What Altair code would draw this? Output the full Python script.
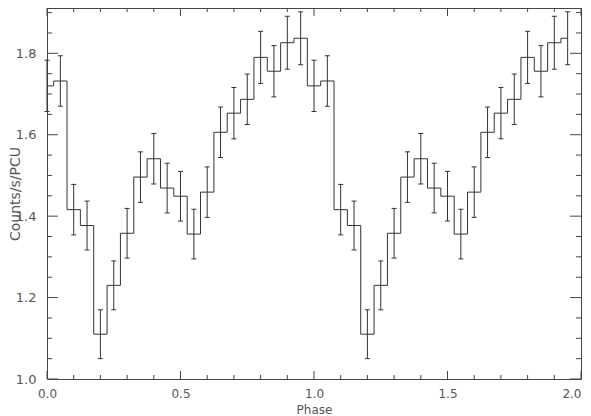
import altair as alt
import pandas as pd

# ---- data (two identical folded cycles) ----
phase = [0.00, 0.05, 0.10, 0.15, 0.20, 0.25, 0.30, 0.35, 0.40, 0.45,
         0.50, 0.55, 0.60, 0.65, 0.70, 0.75, 0.80, 0.85, 0.90, 0.95,
         1.00, 1.05, 1.10, 1.15, 1.20, 1.25, 1.30, 1.35, 1.40, 1.45,
         1.50, 1.55, 1.60, 1.65, 1.70, 1.75, 1.80, 1.85, 1.90, 1.95]
rate = [1.720, 1.732, 1.416, 1.377, 1.110, 1.230, 1.358, 1.496, 1.541, 1.469,
        1.449, 1.356, 1.459, 1.606, 1.653, 1.687, 1.790, 1.756, 1.826, 1.837,
        1.720, 1.732, 1.416, 1.377, 1.110, 1.230, 1.358, 1.496, 1.541, 1.469,
        1.449, 1.356, 1.459, 1.606, 1.653, 1.687, 1.790, 1.756, 1.826, 1.837]
err = [0.063, 0.062, 0.062, 0.060, 0.060, 0.060, 0.061, 0.062, 0.062, 0.061,
       0.061, 0.061, 0.062, 0.062, 0.063, 0.062, 0.064, 0.063, 0.065, 0.065,
       0.063, 0.062, 0.062, 0.060, 0.060, 0.060, 0.061, 0.062, 0.062, 0.061,
       0.061, 0.061, 0.062, 0.062, 0.063, 0.062, 0.064, 0.063, 0.065, 0.065]

x_major = [0.0, 0.5, 1.0, 1.5, 2.0]
x_minor = [0.1, 0.2, 0.3, 0.4, 0.6, 0.7, 0.8, 0.9,
           1.1, 1.2, 1.3, 1.4, 1.6, 1.7, 1.8, 1.9]
y_major = [1.0, 1.2, 1.4, 1.6, 1.8]
y_minor = [1.05, 1.10, 1.15, 1.25, 1.30, 1.35, 1.45, 1.50, 1.55,
           1.65, 1.70, 1.75, 1.85, 1.90]

W, H = 534, 371
INK = "#333333"
FRAME = "#444444"
TXT = "#555555"

df = pd.DataFrame({"phase": phase, "rate": rate})
df["lo"] = df["rate"] - pd.Series(err)
df["hi"] = df["rate"] + pd.Series(err)

xs = alt.Scale(domain=[0, 2], nice=False, zero=False)
ys = alt.Scale(domain=[1.0, 1.9113], nice=False, zero=False)

common = dict(grid=False, domain=False, ticks=False,
              labelFont="DejaVu Sans", labelColor=TXT,
              labelFlush=False, labelOverlap=False,
              titleFont="DejaVu Sans", titleFontWeight="normal",
              titleColor=TXT, format=".1f")

base = alt.Chart(df)

line = base.mark_line(interpolate="step", color=INK, strokeWidth=1).encode(
    x=alt.X("phase:Q", scale=xs,
            axis=alt.Axis(values=x_major, title="Phase", titleFontSize=12,
                          labelFontSize=12, labelPadding=9,
                          titleX=W / 2, titleY=34, titleAlign="center",
                          titleBaseline="alphabetic",
                          labelAlign={"condition": {"test": "datum.value >= 2",
                                                    "value": "right"},
                                      "value": "center"},
                          **common)),
    y=alt.Y("rate:Q", scale=ys,
            axis=alt.Axis(values=y_major, title="Counts/s/PCU", titleFontSize=14,
                          labelFontSize=13, labelPadding=11,
                          titleX=-39, titleY=H / 2, titleAngle=270,
                          titleAlign="center", titleBaseline="top", **common)),
)

bars = base.mark_rule(color=INK, strokeWidth=1).encode(
    x=alt.X("phase:Q", scale=xs), y=alt.Y("lo:Q", scale=ys), y2="hi:Q")
cap_lo = base.mark_tick(orient="horizontal", size=5, thickness=1, color=INK,
                        opacity=1).encode(
    x=alt.X("phase:Q", scale=xs), y=alt.Y("lo:Q", scale=ys))
cap_hi = base.mark_tick(orient="horizontal", size=5, thickness=1, color=INK,
                        opacity=1).encode(
    x=alt.X("phase:Q", scale=xs), y=alt.Y("hi:Q", scale=ys))


def xticks(vals, length):
    d = alt.Chart(pd.DataFrame({"v": vals}))
    bottom = d.mark_rule(color=FRAME, strokeWidth=1).encode(
        x=alt.X("v:Q", scale=xs), y=alt.value(H), y2=alt.value(H - length))
    top = d.mark_rule(color=FRAME, strokeWidth=1).encode(
        x=alt.X("v:Q", scale=xs), y=alt.value(0), y2=alt.value(length))
    return [bottom, top]


def yticks(vals, length):
    d = alt.Chart(pd.DataFrame({"v": vals}))
    left = d.mark_rule(color=FRAME, strokeWidth=1).encode(
        y=alt.Y("v:Q", scale=ys), x=alt.value(0), x2=alt.value(length))
    right = d.mark_rule(color=FRAME, strokeWidth=1).encode(
        y=alt.Y("v:Q", scale=ys), x=alt.value(W), x2=alt.value(W - length))
    return [left, right]


layers = ([line, bars, cap_lo, cap_hi]
          + xticks(x_major, 8) + xticks(x_minor, 4)
          + yticks(y_major, 11) + yticks(y_minor, 5))

chart = alt.layer(*layers).properties(
    width=W, height=H,
    autosize="none",
    background="white",
    padding={"left": 39, "top": 0, "right": 2, "bottom": 37},
).configure_axis(
    grid=False, domain=False, ticks=False,
).configure_view(
    stroke=FRAME, strokeWidth=1
)

chart.save("out.html", embed_options={"renderer": "svg", "actions": False})
